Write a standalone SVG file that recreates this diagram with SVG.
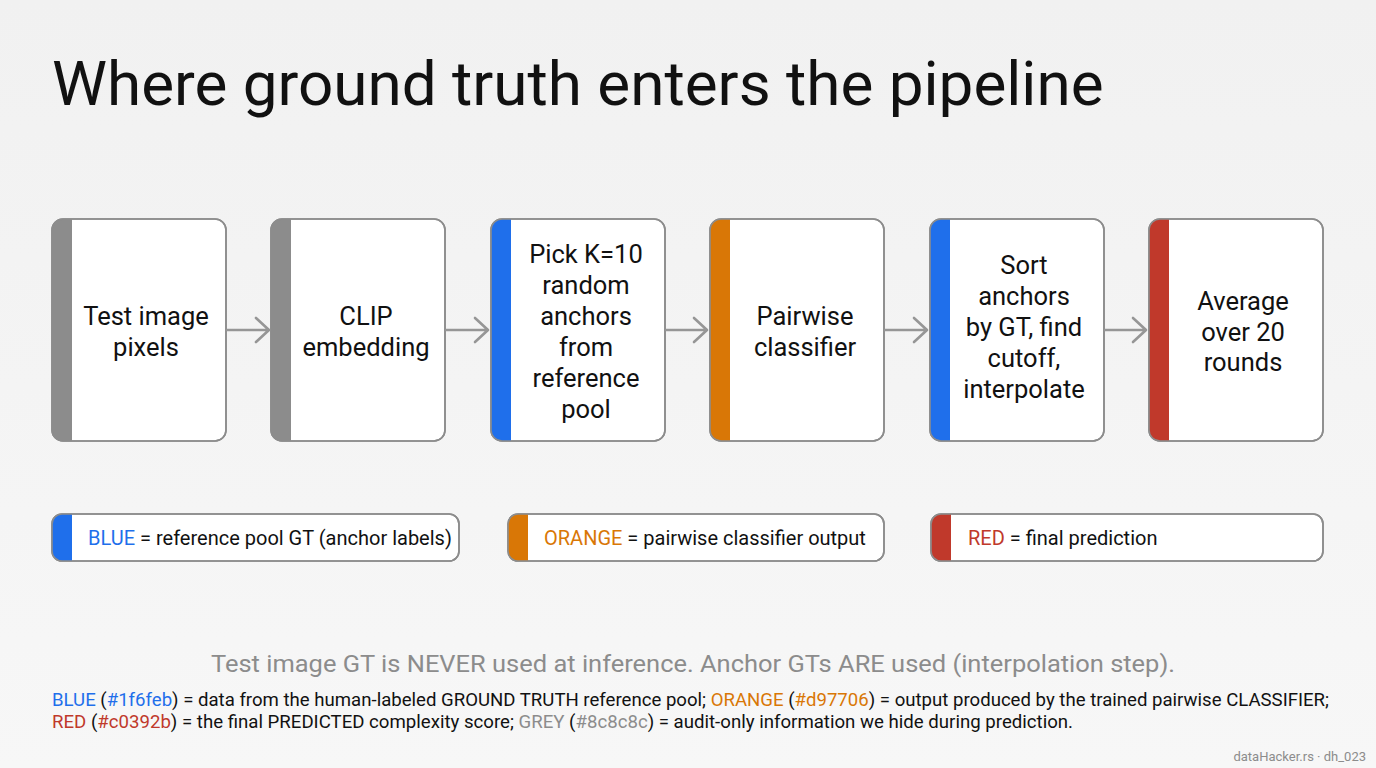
<svg xmlns="http://www.w3.org/2000/svg" width="1376" height="768" viewBox="0 0 1376 768">
<defs>
<style>
text{font-family:Roboto,"Liberation Sans",sans-serif;}
.bx{fill:#ffffff;stroke:#8c8c8c;stroke-width:1.6;}
.nt{font-size:25.5px;fill:#111;text-anchor:middle;}
.lg{font-size:20px;fill:#111;}
.ft{font-size:18.5px;fill:#111;}
.arr{fill:none;stroke:#969696;stroke-width:2.6;stroke-linecap:round;stroke-linejoin:round;}
</style>
<linearGradient id="bg" x1="0" y1="0" x2="0" y2="1">
<stop offset="0" stop-color="#f1f1f1"/>
<stop offset="1" stop-color="#f7f7f7"/>
</linearGradient>
</defs>
<rect width="1376" height="768" fill="url(#bg)"/>
<text x="52" y="105" font-size="62" fill="#111">Where ground truth enters the pipeline</text>

<g id="n1">
<rect class="bx" x="52" y="219" width="174" height="222" rx="11"/>
<path d="M63,219H72V441H63A11,11 0 0 1 52,430V230A11,11 0 0 1 63,219Z" fill="#8c8c8c"/>
<rect x="52" y="219" width="174" height="222" rx="11" fill="none" stroke="#8c8c8c" stroke-width="1.6"/>
<text class="nt"><tspan x="146" y="325">Test image</tspan><tspan x="146" y="356">pixels</tspan></text>
</g>
<g id="n2">
<rect class="bx" x="271" y="219" width="174" height="222" rx="11"/>
<path d="M282,219H291V441H282A11,11 0 0 1 271,430V230A11,11 0 0 1 282,219Z" fill="#8c8c8c"/>
<rect x="271" y="219" width="174" height="222" rx="11" fill="none" stroke="#8c8c8c" stroke-width="1.6"/>
<text class="nt"><tspan x="366" y="325">CLIP</tspan><tspan x="366" y="356">embedding</tspan></text>
</g>
<g id="n3">
<rect class="bx" x="491" y="219" width="174" height="222" rx="11"/>
<path d="M502,219H511V441H502A11,11 0 0 1 491,430V230A11,11 0 0 1 502,219Z" fill="#1f6feb"/>
<rect x="491" y="219" width="174" height="222" rx="11" fill="none" stroke="#8c8c8c" stroke-width="1.6"/>
<text class="nt"><tspan x="586" y="263">Pick K=10</tspan><tspan x="586" y="294">random</tspan><tspan x="586" y="325">anchors</tspan><tspan x="586" y="356">from</tspan><tspan x="586" y="387">reference</tspan><tspan x="586" y="418">pool</tspan></text>
</g>
<g id="n4">
<rect class="bx" x="710" y="219" width="174" height="222" rx="11"/>
<path d="M721,219H730V441H721A11,11 0 0 1 710,430V230A11,11 0 0 1 721,219Z" fill="#d97706"/>
<rect x="710" y="219" width="174" height="222" rx="11" fill="none" stroke="#8c8c8c" stroke-width="1.6"/>
<text class="nt"><tspan x="805" y="325">Pairwise</tspan><tspan x="805" y="356">classifier</tspan></text>
</g>
<g id="n5">
<rect class="bx" x="930" y="219" width="174" height="222" rx="11"/>
<path d="M941,219H950V441H941A11,11 0 0 1 930,430V230A11,11 0 0 1 941,219Z" fill="#1f6feb"/>
<rect x="930" y="219" width="174" height="222" rx="11" fill="none" stroke="#8c8c8c" stroke-width="1.6"/>
<text class="nt"><tspan x="1024" y="274">Sort</tspan><tspan x="1024" y="305">anchors</tspan><tspan x="1024" y="336">by GT, find</tspan><tspan x="1024" y="367">cutoff,</tspan><tspan x="1024" y="398">interpolate</tspan></text>
</g>
<g id="n6">
<rect class="bx" x="1149" y="219" width="174" height="222" rx="11"/>
<path d="M1160,219H1169V441H1160A11,11 0 0 1 1149,430V230A11,11 0 0 1 1160,219Z" fill="#c0392b"/>
<rect x="1149" y="219" width="174" height="222" rx="11" fill="none" stroke="#8c8c8c" stroke-width="1.6"/>
<text class="nt"><tspan x="1243" y="310">Average</tspan><tspan x="1243" y="341">over 20</tspan><tspan x="1243" y="371">rounds</tspan></text>
</g>

<g id="connectors">
<path class="arr" d="M227,330H268M256,318L269,330L256,342"/>
<path class="arr" d="M446,330H487M475,318L488,330L475,342"/>
<path class="arr" d="M666,330H706M694,318L707,330L694,342"/>
<path class="arr" d="M885,330H926M914,318L927,330L914,342"/>
<path class="arr" d="M1105,330H1145M1133,318L1146,330L1133,342"/>
</g>

<g id="legend-blue">
<rect class="bx" x="52" y="514" width="407" height="47" rx="10"/>
<path d="M62,514H72V561H62A10,10 0 0 1 52,551V524A10,10 0 0 1 62,514Z" fill="#1f6feb"/>
<rect x="52" y="514" width="407" height="47" rx="10" fill="none" stroke="#8c8c8c" stroke-width="1.6"/>
<text class="lg" x="88" y="545"><tspan fill="#1f6feb">BLUE</tspan> = reference pool GT (anchor labels)</text>
</g>
<g id="legend-orange">
<rect class="bx" x="508" y="514" width="376" height="47" rx="10"/>
<path d="M518,514H528V561H518A10,10 0 0 1 508,551V524A10,10 0 0 1 518,514Z" fill="#d97706"/>
<rect x="508" y="514" width="376" height="47" rx="10" fill="none" stroke="#8c8c8c" stroke-width="1.6"/>
<text class="lg" x="544" y="545"><tspan fill="#d97706">ORANGE</tspan> = pairwise classifier output</text>
</g>
<g id="legend-red">
<rect class="bx" x="931" y="514" width="392" height="47" rx="10"/>
<path d="M941,514H951V561H941A10,10 0 0 1 931,551V524A10,10 0 0 1 941,514Z" fill="#c0392b"/>
<rect x="931" y="514" width="392" height="47" rx="10" fill="none" stroke="#8c8c8c" stroke-width="1.6"/>
<text class="lg" x="968" y="545"><tspan fill="#c0392b">RED</tspan> = final prediction</text>
</g>

<text x="211" y="672" font-size="24.5" fill="#8c8c8c" textLength="964" lengthAdjust="spacingAndGlyphs">Test image GT is NEVER used at inference. Anchor GTs ARE used (interpolation step).</text>
<text class="ft" x="52" y="706" textLength="1277" lengthAdjust="spacingAndGlyphs"><tspan fill="#1f6feb">BLUE</tspan> (<tspan fill="#1f6feb">#1f6feb</tspan>) = data from the human-labeled GROUND TRUTH reference pool; <tspan fill="#d97706">ORANGE</tspan> (<tspan fill="#d97706">#d97706</tspan>) = output produced by the trained pairwise CLASSIFIER;</text>
<text class="ft" x="52" y="728" textLength="1021" lengthAdjust="spacingAndGlyphs"><tspan fill="#c0392b">RED</tspan> (<tspan fill="#c0392b">#c0392b</tspan>) = the final PREDICTED complexity score; <tspan fill="#8c8c8c">GREY</tspan> (<tspan fill="#8c8c8c">#8c8c8c</tspan>) = audit-only information we hide during prediction.</text>
<text x="1366" y="761" font-size="13" fill="#8c8c8c" text-anchor="end">dataHacker.rs · dh_023</text>
</svg>
